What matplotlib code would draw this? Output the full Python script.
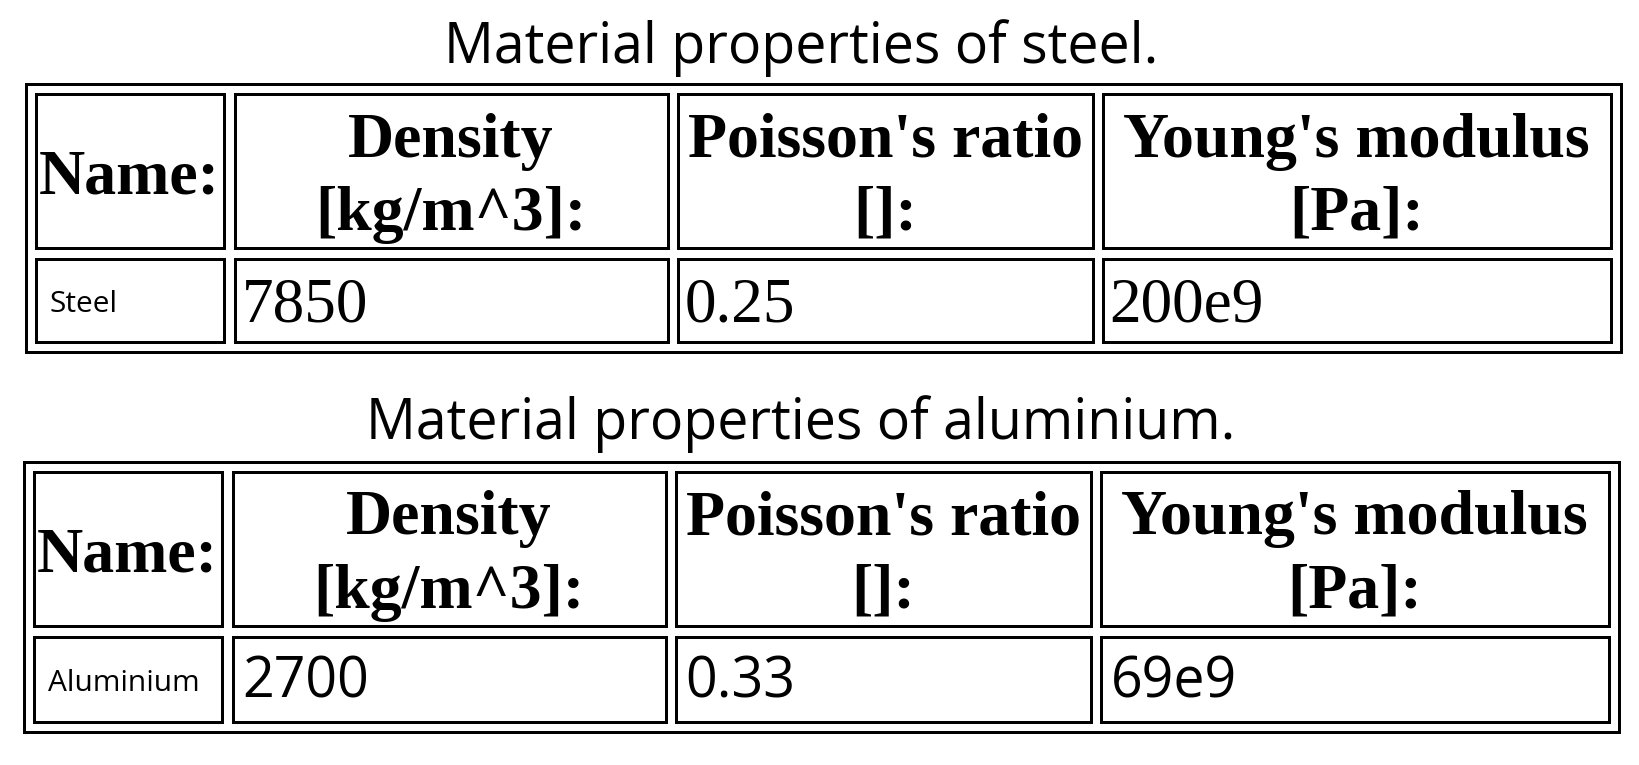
import matplotlib.pyplot as plt
from matplotlib.patches import Rectangle

titles = ['Material properties of steel.', 'Material properties of aluminium.']
headers = ['Name:', 'Density\n[kg/m^3]:', "Poisson's ratio\n[]:", "Young's modulus\n[Pa]:"]
names = ['Steel', 'Aluminium']
density = ['7850', '2700']
poisson = ['0.25', '0.33']
young = ['200e9', '69e9']

# layout in pixels (figure is 1639 x 765, y going down)
cols = [(35.5, 223.5), (234.5, 667.5), (677.5, 1092.5), (1102.5, 1611.0)]
tab_top = [83.5, 461.5]
tab_dx = [0, -2]
title_y = [63, 439]
head_h = 154
data_h = [83, 85]
gap = 11
pad = 10
lw = 2.16

value_font = [dict(family='Liberation Serif', size=45.5),
              dict(family='Open Sans', size=40)]
value_off = [21, 18]
value_pad = [7, 10]

fig = plt.figure(figsize=(16.39, 7.65), dpi=100)
ax = fig.add_axes([0, 0, 1, 1])
ax.set_xlim(0, 1639)
ax.set_ylim(765, 0)
ax.axis('off')

for t in range(2):
    top = tab_top[t]
    dx = tab_dx[t]
    ax.text(801, title_y[t], titles[t], ha='center', va='baseline',
            family='Open Sans', size=40)

    # outer border
    x0 = cols[0][0] - pad + dx
    x1 = cols[-1][1] + pad + dx
    y1 = top + pad + head_h + gap + data_h[t] + pad
    ax.add_patch(Rectangle((x0, top), x1 - x0, y1 - top, fill=False,
                           ec='black', lw=lw))

    hy0 = top + pad
    dy0 = hy0 + head_h + gap
    row = [names[t], density[t], poisson[t], young[t]]
    for c, (a, b) in enumerate(cols):
        a += dx
        b += dx
        ax.add_patch(Rectangle((a, hy0), b - a, head_h, fill=False,
                               ec='black', lw=lw))
        ax.add_patch(Rectangle((a, dy0), b - a, data_h[t], fill=False,
                               ec='black', lw=lw))
        mid = hy0 + head_h / 2
        lines = headers[c].split('\n')
        if len(lines) == 1:
            ax.text((a + b) / 2, mid + 23, lines[0], ha='center', va='baseline',
                    family='Liberation Serif', weight='bold', size=46)
        else:
            ax.text((a + b) / 2, mid - 14, lines[0], ha='center', va='baseline',
                    family='Liberation Serif', weight='bold', size=46)
            ax.text((a + b) / 2, mid + 59, lines[1], ha='center', va='baseline',
                    family='Liberation Serif', weight='bold', size=46)
        dmid = dy0 + data_h[t] / 2
        if c == 0:
            ax.text(a + 14, dmid + 12, row[c], ha='left', va='baseline',
                    family='Open Sans', size=21.5)
        else:
            ax.text(a + value_pad[t], dmid + value_off[t], row[c], ha='left',
                    va='baseline', **value_font[t])

fig.savefig('out.png', dpi=100)
